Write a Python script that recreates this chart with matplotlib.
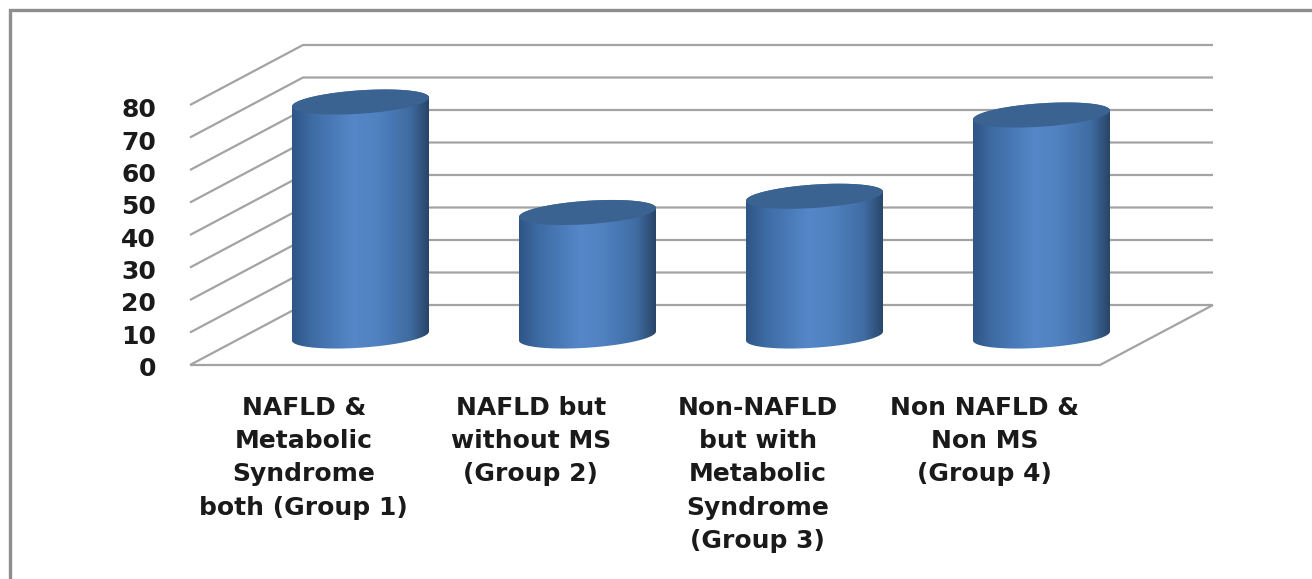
#!/usr/bin/env python3
import matplotlib
matplotlib.use('Agg')
import matplotlib.pyplot as plt
import numpy as np
from matplotlib.colors import LinearSegmentedColormap
from matplotlib.lines import Line2D
from matplotlib.patches import PathPatch
from matplotlib.path import Path

groups = ['NAFLD &\nMetabolic\nSyndrome\nboth (Group 1)',
          'NAFLD but\nwithout MS\n(Group 2)',
          'Non-NAFLD\nbut with\nMetabolic\nSyndrome\n(Group 3)',
          'Non NAFLD &\nNon MS\n(Group 4)']
values = [72, 38, 43, 68]
ticks = [0, 10, 20, 30, 40, 50, 60, 70, 80]

W, H = 1312, 579
PX_X = 227.0   # pixels per category
PX_Y = 3.25    # pixels per value unit
X0, Y0 = 360.5, 365.0

plt.rcParams['font.family'] = ['DejaVu Sans']
fig = plt.figure(figsize=(W / 100, H / 100), dpi=100)
ax = fig.add_axes([0, 0, 1, 1])
xlim = (-X0 / PX_X, (W - X0) / PX_X)
ylim = (-(H - Y0) / PX_Y, Y0 / PX_Y)
ax.set_axis_off()

# depth of the 3d box
dx = 113 / PX_X
dy = 60 / PX_Y
x_left = (190 - X0) / PX_X
x_right = (1100 - X0) / PX_X

grid = dict(color='#a3a3a3', lw=1.6, solid_capstyle='butt', zorder=1)
for t in ticks:
    ax.plot([x_left, x_left + dx, x_right + dx], [t, t + dy, t + dy], **grid)
ax.plot([x_left, x_right, x_right + dx], [0, 0, dy], **grid)

for t in ticks:
    ax.text(x_left - 0.15, t * 0.995 - 0.5, str(t), ha='right', va='center_baseline', fontsize=18,
            fontweight='bold', color='#1a1a1a')

# cylinders
shade = LinearSegmentedColormap.from_list('cyl', [
    (0.0, '#2e5585'), (0.14, '#3d6ba3'), (0.45, '#5587c9'), (0.62, '#5082c1'),
    (0.86, '#3f6ca2'), (1.0, '#294568')])
half_w = 68.5 / PX_X
base = 29 / PX_Y
rise = 4.5 / PX_Y    # tilt of the end ellipses
minor = 11.7 / PX_Y
t_a = np.linspace(0, np.pi, 60)
t_b = np.linspace(np.pi, 2 * np.pi, 60)

for i, v in enumerate(values):
    top = base + v
    # body outline: near half of the bottom rim, then the far half of the top rim
    xs_bot = i + half_w * np.cos(t_b)
    ys_bot = base + rise * np.cos(t_b) + minor * np.sin(t_b)
    xs_top = i + half_w * np.cos(t_a)
    ys_top = top + rise * np.cos(t_a) + minor * np.sin(t_a)
    body = np.column_stack([np.r_[xs_bot, xs_top], np.r_[ys_bot, ys_top]])
    im = ax.imshow(np.linspace(0, 1, 256)[None, :], cmap=shade, aspect='auto', zorder=3,
                   extent=(i - half_w, i + half_w, base - 2 * minor, top + 2 * minor))
    patch = PathPatch(Path(body, closed=False), transform=ax.transData, fc='none', ec='none')
    ax.add_patch(patch)
    im.set_clip_path(patch)
    t_c = np.linspace(0, 2 * np.pi, 120)
    ax.fill(i + half_w * np.cos(t_c), top + rise * np.cos(t_c) + minor * np.sin(t_c),
            color='#3b6392', lw=0, zorder=4)

for i, g in enumerate(groups):
    ax.text(i - 0.25, -9.6, g, ha='center', va='top', fontsize=18,
            fontweight='bold', color='#1a1a1a', linespacing=1.48)

ax.set_xlim(xlim)
ax.set_ylim(ylim)

# outer frame: left and top edges only
fx = 10 / W
fy = 1 - 9.5 / H
fig.add_artist(Line2D([fx, fx, 1], [0, fy, fy], transform=fig.transFigure,
                      color='#8e8e8e', lw=2.4, solid_joinstyle='miter'))

fig.savefig('out.png', dpi=100)
